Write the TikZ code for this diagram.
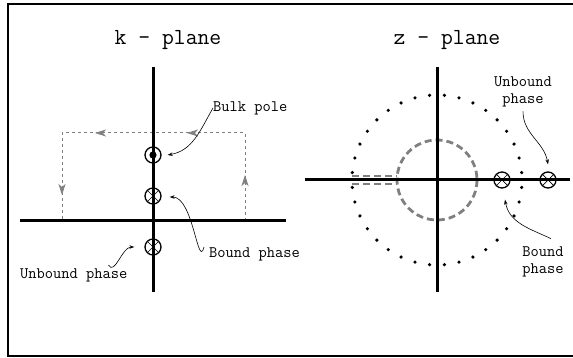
\documentclass[tikz,border=0pt]{standalone}
\usetikzlibrary{arrows.meta,calc,decorations.markings}
\tikzset{
  axis/.style={line width=3pt},
  pole/.style={circle,draw,line width=1.3pt,minimum size=16pt,inner sep=0pt},
  xpole/.style={pole,path picture={
    \draw[line width=0.7pt] (path picture bounding box.north west)--(path picture bounding box.south east)
      (path picture bounding box.north east)--(path picture bounding box.south west);}},
  lbl/.style={font=\ttfamily\fontsize{16}{17}\selectfont,inner sep=0pt,align=center},
  ttl/.style={font=\ttfamily\fontsize{23}{26}\selectfont,inner sep=0pt},
  callout/.style={-{Stealth[length=5pt,width=3.5pt]},line width=0.6pt},
  contour/.style={gray,line width=1pt,dash pattern=on 3pt off 3pt},
  cutline/.style={gray,line width=2.8pt,dash pattern=on 7pt off 4pt},
  garrow/.style={solid,fill=gray,draw=gray,line width=0.8pt}
}
\begin{document}
\begin{tikzpicture}[x=1pt,y=-1pt]
\useasboundingbox (0,0) rectangle (573,358);
% frame
\draw[line width=1.3pt] (573,4) -- (8,4) -- (8,356) -- (573,356);

% k - plane
\node[ttl] (ktitle) at (168,40) {k - plane};
\draw[contour,postaction={decorate},decoration={markings,
    mark=at position 46pt with {\arrow[garrow]{Stealth[length=11pt,width=7pt,inset=3pt]}},
    mark=at position 146pt with {\arrow[garrow]{Stealth[length=11pt,width=7pt,inset=3pt]}},
    mark=at position 238pt with {\arrow[garrow]{Stealth[length=11pt,width=7pt,inset=3pt]}},
    mark=at position 333pt with {\arrow[garrow]{Stealth[length=11pt,width=7pt,inset=3pt]}}}]
  (245,221) -- (245,133) -- (62,133) -- (62,221);
\draw[axis] (153,67) -- (153,292);
\draw[axis] (20,221) -- (286,221);
\node[pole] (bulk) at (153,155) {};
\fill (bulk.center) circle (3.6);
\node[xpole] (kbound) at (153,196) {};
\node[xpole] (kunbound) at (153,247) {};
\node[lbl,anchor=west] (bulklbl) at (213,108) {Bulk pole};
\node[lbl,anchor=west] (kboundlbl) at (209,254) {Bound phase};
\node[lbl,anchor=west] (kunboundlbl) at (20,275) {Unbound phase};
\draw[callout] (bulklbl.west) to[out=240,in=10] ($(bulk.east)+(6,0)$);
\draw[callout] ($(kboundlbl.north west)+(-5,0)$) to[out=255,in=0] ($(kbound.east)+(8,1)$);
\draw[callout] ($(kunboundlbl.north east)+(-19,-3)$) to[out=-60,in=180] ($(kunbound.west)+(-10,0)$);

% z - plane
\node[ttl] (ztitle) at (447,40) {z - plane};
\foreach \a in {5,15,...,355}
  \fill (437,180) ++(\a:85) circle (1.8);
\draw[cutline] (437,180) circle (40);
\draw[cutline] (352,176) -- (397,176);
\draw[cutline] (352,184) -- (397,184);
\draw[axis] (437,67) -- (437,292);
\draw[axis] (305,180) -- (570,180);
\node[xpole] (zbound) at (502,180) {};
\node[xpole] (zunbound) at (548,180) {};
\node[lbl] (zunboundlbl) at (523,92) {Unbound\\phase};
\node[lbl] (zboundlbl) at (543,262) {Bound\\phase};
\draw[callout] ($(zunboundlbl.south)+(0,4)$) to[out=-90,in=100] ($(zunbound.north)+(0,-7)$);
\draw[callout] ($(zboundlbl.north)+(8,-8)$) to[out=155,in=-80] ($(zbound.south)+(3,11)$);
\end{tikzpicture}
\end{document}
